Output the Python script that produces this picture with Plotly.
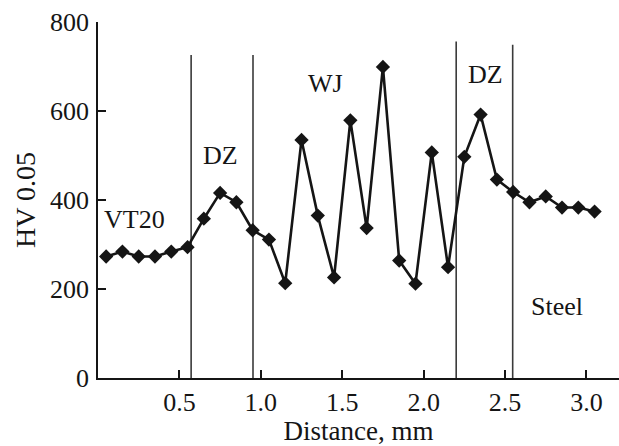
import plotly.graph_objects as go

distance = [0.05, 0.15, 0.25, 0.35, 0.45, 0.55, 0.65, 0.75, 0.85, 0.95, 1.05,
            1.15, 1.25, 1.35, 1.45, 1.55, 1.65, 1.75, 1.85, 1.95, 2.05, 2.15,
            2.25, 2.35, 2.45, 2.55, 2.65, 2.75, 2.85, 2.95, 3.05]
hardness = [273, 284, 273, 273, 284, 294, 358, 416, 395, 332, 311,
            213, 535, 365, 226, 579, 337, 699, 264, 212, 507, 249,
            497, 592, 446, 418, 395, 408, 383, 383, 374]

zone_bounds = [0.572, 0.952, 2.2, 2.547]
zone_tops = [726, 726, 756, 749]

label_text = ["VT20", "DZ", "WJ", "DZ", "Steel"]
label_x = [0.224, 0.75, 1.396, 2.383, 2.82]
label_y = [356, 500, 661, 682, 160]

x_ticks = [0.5, 1.0, 1.5, 2.0, 2.5, 3.0]
y_ticks = [0, 200, 400, 600, 800]

FONT = '"Liberation Serif", "Times New Roman", serif'

fig = go.Figure()
fig.add_trace(go.Scatter(
    x=distance, y=hardness, mode="lines+markers",
    line=dict(color="#151515", width=2.6),
    marker=dict(symbol="diamond", size=11, color="#151515"),
    showlegend=False, hoverinfo="skip"))

for xb, yt in zip(zone_bounds, zone_tops):
    fig.add_shape(type="line", xref="x", yref="y", x0=xb, x1=xb, y0=0, y1=yt,
                  line=dict(color="#3a3a3a", width=1.6), layer="below")

for t, lx, ly in zip(label_text, label_x, label_y):
    fig.add_annotation(x=lx, y=ly, text=t, showarrow=False,
                       font=dict(family=FONT, size=26, color="#151515"))

fig.update_layout(
    width=619, height=446,
    margin=dict(l=97.5, r=0, t=22, b=68),
    paper_bgcolor="white", plot_bgcolor="white",
    font=dict(family=FONT, size=26, color="#151515"),
    xaxis=dict(range=[0, 3.2], tickvals=x_ticks, tickformat=".1f",
               ticks="inside", ticklen=8, tickwidth=1.5, tickcolor="#151515",
               showline=True, linecolor="#151515", linewidth=1.6,
               showgrid=False, zeroline=False,
               ticklabelstandoff=0,
               tickfont=dict(family=FONT, size=26),
               title=dict(text="Distance, mm", standoff=9,
                          font=dict(family=FONT, size=27))),
    yaxis=dict(range=[0, 800], tickvals=y_ticks,
               ticks="inside", ticklen=8, tickwidth=1.5, tickcolor="#151515",
               showline=True, linecolor="#151515", linewidth=1.6,
               showgrid=False, zeroline=False,
               ticklabelstandoff=2,
               tickfont=dict(family=FONT, size=26),
               title=dict(text="HV 0.05", standoff=6,
                          font=dict(family=FONT, size=28))),
)

fig.write_html("out.html")
